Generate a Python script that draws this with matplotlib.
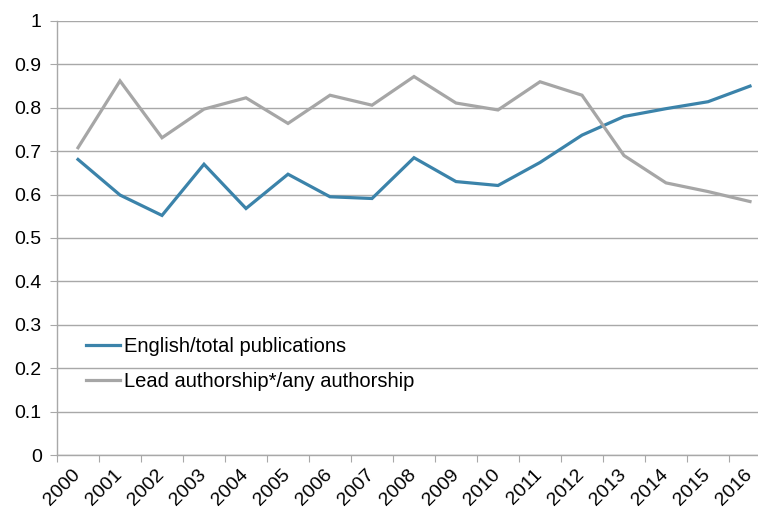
import matplotlib
matplotlib.use("Agg")
import matplotlib.pyplot as plt

plt.rcParams['font.family'] = ['Liberation Sans', 'DejaVu Sans']

years = [str(y) for y in range(2000, 2017)]
english_total = [0.681, 0.599, 0.552, 0.670, 0.568, 0.647, 0.595, 0.591, 0.685,
                 0.630, 0.621, 0.674, 0.737, 0.780, 0.798, 0.814, 0.850]
lead_any = [0.708, 0.862, 0.731, 0.797, 0.823, 0.764, 0.829, 0.806, 0.872,
            0.811, 0.795, 0.860, 0.829, 0.690, 0.627, 0.607, 0.584]
series_labels = ["English/total publications", "Lead authorship*/any authorship"]
y_ticks = [0, 0.1, 0.2, 0.3, 0.4, 0.5, 0.6, 0.7, 0.8, 0.9, 1]
y_tick_labels = ["0", "0.1", "0.2", "0.3", "0.4", "0.5", "0.6", "0.7", "0.8", "0.9", "1"]

W, H = 758, 509
fig = plt.figure(figsize=(W / 100, H / 100), dpi=100)
ax = fig.add_axes([57 / W, 54 / H, 714 / W, 434 / H])

x = list(range(len(years)))
ax.plot(x, english_total, color='#3b83aa', lw=2.3, label=series_labels[0], solid_joinstyle='miter')
ax.plot(x, lead_any, color='#a6a6a6', lw=2.3, label=series_labels[1], solid_joinstyle='miter')

ax.set_xlim(-0.5, len(years) - 0.5)
ax.set_ylim(0, 1)
ax.set_yticks(y_ticks)
ax.set_yticklabels(y_tick_labels)
ax.grid(axis='y', color='#a8a8a8', lw=1)
ax.set_axisbelow(True)

for s in ['top', 'right']:
    ax.spines[s].set_visible(False)
for s in ['left', 'bottom']:
    ax.spines[s].set_color('#a8a8a8')
    ax.spines[s].set_linewidth(1)

ax.set_xticks([i - 0.5 for i in range(len(years) + 1)])
ax.set_xticklabels([])
ax.set_xticks(x, minor=True)
ax.set_xticklabels(years, minor=True, rotation=45, ha='right', va='center',
                   rotation_mode='anchor', fontsize=14)
ax.tick_params(axis='x', which='minor', length=0, pad=12)
ax.tick_params(axis='x', which='major', length=5, color='#a8a8a8')
ax.tick_params(axis='y', length=5, color='#a8a8a8', labelsize=14, pad=6)

leg = ax.legend(loc='center left', bbox_to_anchor=(86 / W, 1 - 364 / H),
                bbox_transform=fig.transFigure, frameon=False, fontsize=14.5,
                handlelength=1.7, handletextpad=0.2, labelspacing=0.75,
                borderpad=0, borderaxespad=0)

fig.savefig('out.png', dpi=100)
